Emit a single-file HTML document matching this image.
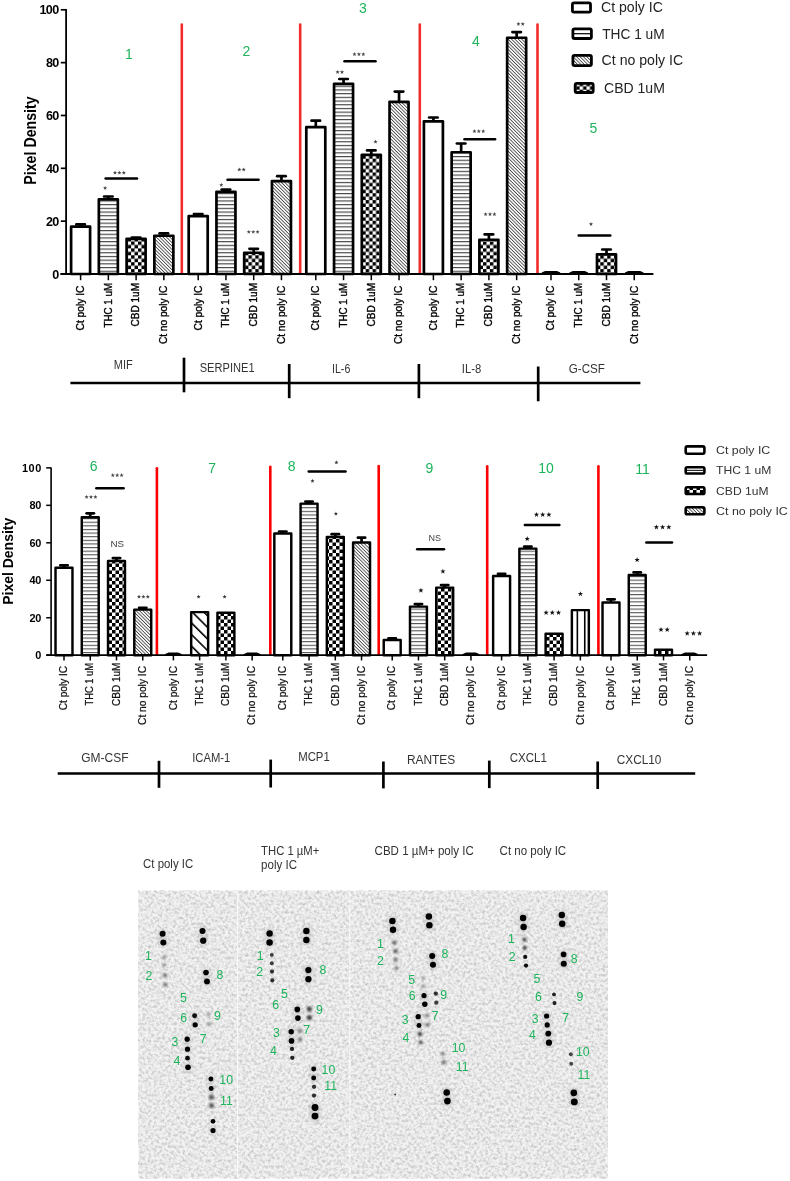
<!DOCTYPE html>
<html><head><meta charset="utf-8"><title>Figure</title>
<style>
html,body{margin:0;padding:0;background:#fff;}
svg{display:block;will-change:transform;}
text{font-family:'Liberation Sans', sans-serif;}
</style></head>
<body>
<svg width="790" height="1181" viewBox="0 0 790 1181">
<rect width="790" height="1181" fill="#fff"/>

<defs>
 <pattern id="hs1" patternUnits="userSpaceOnUse" width="8" height="3.7" y="0.6">
   <rect width="8" height="3.7" fill="#fff"/><rect y="0" width="8" height="1.15" fill="#444"/>
 </pattern>
 <pattern id="hs2" patternUnits="userSpaceOnUse" width="8" height="3.62" y="0.4">
   <rect width="8" height="3.62" fill="#fff"/><rect y="0" width="8" height="1.1" fill="#555"/>
 </pattern>
 <pattern id="ck1" patternUnits="userSpaceOnUse" width="6.9" height="6.9">
   <rect width="6.9" height="6.9" fill="#fff"/><rect width="3.45" height="3.45" fill="#000"/><rect x="3.45" y="3.45" width="3.45" height="3.45" fill="#000"/>
 </pattern>
 <pattern id="ck2" patternUnits="userSpaceOnUse" width="7" height="7">
   <rect width="7" height="7" fill="#fff"/><rect width="3.5" height="3.5" fill="#000"/><rect x="3.5" y="3.5" width="3.5" height="3.5" fill="#000"/>
 </pattern>
 <pattern id="dg1" patternUnits="userSpaceOnUse" width="2.4" height="10" patternTransform="rotate(-45)">
   <rect width="2.4" height="10" fill="#fff"/><rect width="0.85" height="10" fill="#444"/>
 </pattern>
 <pattern id="dg2" patternUnits="userSpaceOnUse" width="2.4" height="10" patternTransform="rotate(-45)">
   <rect width="2.4" height="10" fill="#fff"/><rect width="0.85" height="10" fill="#444"/>
 </pattern>
 <pattern id="wd" patternUnits="userSpaceOnUse" width="8.2" height="20" patternTransform="translate(190,611) rotate(-45)">
   <rect width="8.2" height="20" fill="#fff"/><rect width="1.6" height="20" fill="#000"/>
 </pattern>
 <filter id="noise" x="0" y="0" width="100%" height="100%">
   <feTurbulence type="fractalNoise" baseFrequency="0.35" numOctaves="3" seed="7" result="t"/>
   <feColorMatrix in="t" type="matrix" values="0 0 0 0 0  0 0 0 0 0  0 0 0 0 0  -0.42 0 0 0 0.255" result="c"/>
   <feGaussianBlur in="c" stdDeviation="0.55"/>
 </filter>
 <filter id="blur1" x="-50%" y="-50%" width="200%" height="200%"><feGaussianBlur stdDeviation="0.75"/></filter>
 <filter id="blur2" x="-80%" y="-80%" width="260%" height="260%"><feGaussianBlur stdDeviation="0.9"/></filter>
 <filter id="blur3" x="-50%" y="-50%" width="200%" height="200%"><feGaussianBlur stdDeviation="2.5"/></filter>
</defs>

<g id="chart1">
<line x1="181.80" y1="24.50" x2="181.80" y2="272.80" stroke="#f22c2c" stroke-width="2.6" stroke-linecap="round"/>
<line x1="300.20" y1="24.50" x2="300.20" y2="272.80" stroke="#f22c2c" stroke-width="2.6" stroke-linecap="round"/>
<line x1="419.80" y1="24.50" x2="419.80" y2="272.80" stroke="#f22c2c" stroke-width="2.6" stroke-linecap="round"/>
<line x1="537.50" y1="24.50" x2="537.50" y2="272.80" stroke="#f22c2c" stroke-width="2.6" stroke-linecap="round"/>
<rect x="71.10" y="226.65" width="19.00" height="47.35" fill="#fff" stroke="#000" stroke-width="2.7" stroke-linejoin="round"/>
<line x1="80.60" y1="224.40" x2="80.60" y2="226.30" stroke="#000" stroke-width="2.7" stroke-linecap="butt"/>
<line x1="76.35" y1="224.40" x2="84.85" y2="224.40" stroke="#000" stroke-width="2.7" stroke-linecap="round"/>
<rect x="98.85" y="199.35" width="19.00" height="74.65" fill="url(#hs1)" stroke="#000" stroke-width="2.7" stroke-linejoin="round"/>
<line x1="108.35" y1="196.50" x2="108.35" y2="199.00" stroke="#000" stroke-width="2.7" stroke-linecap="butt"/>
<line x1="104.10" y1="196.50" x2="112.60" y2="196.50" stroke="#000" stroke-width="2.7" stroke-linecap="round"/>
<rect x="126.60" y="238.85" width="19.00" height="35.15" fill="url(#ck1)" stroke="#000" stroke-width="2.7" stroke-linejoin="round"/>
<line x1="136.10" y1="237.60" x2="136.10" y2="238.50" stroke="#000" stroke-width="2.7" stroke-linecap="butt"/>
<line x1="131.85" y1="237.60" x2="140.35" y2="237.60" stroke="#000" stroke-width="2.7" stroke-linecap="round"/>
<rect x="154.35" y="235.75" width="19.00" height="38.25" fill="url(#dg1)" stroke="#000" stroke-width="2.7" stroke-linejoin="round"/>
<line x1="163.85" y1="233.40" x2="163.85" y2="235.40" stroke="#000" stroke-width="2.7" stroke-linecap="butt"/>
<line x1="159.60" y1="233.40" x2="168.10" y2="233.40" stroke="#000" stroke-width="2.7" stroke-linecap="round"/>
<rect x="188.70" y="216.05" width="19.00" height="57.95" fill="#fff" stroke="#000" stroke-width="2.7" stroke-linejoin="round"/>
<line x1="198.20" y1="214.00" x2="198.20" y2="215.70" stroke="#000" stroke-width="2.7" stroke-linecap="butt"/>
<line x1="193.95" y1="214.00" x2="202.45" y2="214.00" stroke="#000" stroke-width="2.7" stroke-linecap="round"/>
<rect x="216.45" y="191.75" width="19.00" height="82.25" fill="url(#hs1)" stroke="#000" stroke-width="2.7" stroke-linejoin="round"/>
<line x1="225.95" y1="189.60" x2="225.95" y2="191.40" stroke="#000" stroke-width="2.7" stroke-linecap="butt"/>
<line x1="221.70" y1="189.60" x2="230.20" y2="189.60" stroke="#000" stroke-width="2.7" stroke-linecap="round"/>
<rect x="244.20" y="252.75" width="19.00" height="21.25" fill="url(#ck1)" stroke="#000" stroke-width="2.7" stroke-linejoin="round"/>
<line x1="253.70" y1="248.80" x2="253.70" y2="252.40" stroke="#000" stroke-width="2.7" stroke-linecap="butt"/>
<line x1="249.45" y1="248.80" x2="257.95" y2="248.80" stroke="#000" stroke-width="2.7" stroke-linecap="round"/>
<rect x="271.95" y="181.05" width="19.00" height="92.95" fill="url(#dg1)" stroke="#000" stroke-width="2.7" stroke-linejoin="round"/>
<line x1="281.45" y1="176.20" x2="281.45" y2="180.70" stroke="#000" stroke-width="2.7" stroke-linecap="butt"/>
<line x1="277.20" y1="176.20" x2="285.70" y2="176.20" stroke="#000" stroke-width="2.7" stroke-linecap="round"/>
<rect x="306.30" y="127.15" width="19.00" height="146.85" fill="#fff" stroke="#000" stroke-width="2.7" stroke-linejoin="round"/>
<line x1="315.80" y1="120.70" x2="315.80" y2="126.80" stroke="#000" stroke-width="2.7" stroke-linecap="butt"/>
<line x1="311.55" y1="120.70" x2="320.05" y2="120.70" stroke="#000" stroke-width="2.7" stroke-linecap="round"/>
<rect x="334.05" y="83.85" width="19.00" height="190.15" fill="url(#hs1)" stroke="#000" stroke-width="2.7" stroke-linejoin="round"/>
<line x1="343.55" y1="79.00" x2="343.55" y2="83.50" stroke="#000" stroke-width="2.7" stroke-linecap="butt"/>
<line x1="339.30" y1="79.00" x2="347.80" y2="79.00" stroke="#000" stroke-width="2.7" stroke-linecap="round"/>
<rect x="361.80" y="154.95" width="19.00" height="119.05" fill="url(#ck1)" stroke="#000" stroke-width="2.7" stroke-linejoin="round"/>
<line x1="371.30" y1="150.40" x2="371.30" y2="154.60" stroke="#000" stroke-width="2.7" stroke-linecap="butt"/>
<line x1="367.05" y1="150.40" x2="375.55" y2="150.40" stroke="#000" stroke-width="2.7" stroke-linecap="round"/>
<rect x="389.55" y="101.85" width="19.00" height="172.15" fill="url(#dg1)" stroke="#000" stroke-width="2.7" stroke-linejoin="round"/>
<line x1="399.05" y1="91.60" x2="399.05" y2="101.50" stroke="#000" stroke-width="2.7" stroke-linecap="butt"/>
<line x1="394.80" y1="91.60" x2="403.30" y2="91.60" stroke="#000" stroke-width="2.7" stroke-linecap="round"/>
<rect x="423.90" y="121.35" width="19.00" height="152.65" fill="#fff" stroke="#000" stroke-width="2.7" stroke-linejoin="round"/>
<line x1="433.40" y1="117.50" x2="433.40" y2="121.00" stroke="#000" stroke-width="2.7" stroke-linecap="butt"/>
<line x1="429.15" y1="117.50" x2="437.65" y2="117.50" stroke="#000" stroke-width="2.7" stroke-linecap="round"/>
<rect x="451.65" y="152.25" width="19.00" height="121.75" fill="url(#hs1)" stroke="#000" stroke-width="2.7" stroke-linejoin="round"/>
<line x1="461.15" y1="143.50" x2="461.15" y2="151.90" stroke="#000" stroke-width="2.7" stroke-linecap="butt"/>
<line x1="456.90" y1="143.50" x2="465.40" y2="143.50" stroke="#000" stroke-width="2.7" stroke-linecap="round"/>
<rect x="479.40" y="239.75" width="19.00" height="34.25" fill="url(#ck1)" stroke="#000" stroke-width="2.7" stroke-linejoin="round"/>
<line x1="488.90" y1="234.40" x2="488.90" y2="239.40" stroke="#000" stroke-width="2.7" stroke-linecap="butt"/>
<line x1="484.65" y1="234.40" x2="493.15" y2="234.40" stroke="#000" stroke-width="2.7" stroke-linecap="round"/>
<rect x="507.15" y="37.75" width="19.00" height="236.25" fill="url(#dg1)" stroke="#000" stroke-width="2.7" stroke-linejoin="round"/>
<line x1="516.65" y1="32.10" x2="516.65" y2="37.40" stroke="#000" stroke-width="2.7" stroke-linecap="butt"/>
<line x1="512.40" y1="32.10" x2="520.90" y2="32.10" stroke="#000" stroke-width="2.7" stroke-linecap="round"/>
<path d="M540.15,274.50 Q541.65,271.60 545.15,271.00 L556.85,271.00 Q560.35,271.60 561.85,274.50 Z" fill="#000"/>
<path d="M567.90,274.50 Q569.40,271.60 572.90,271.00 L584.60,271.00 Q588.10,271.60 589.60,274.50 Z" fill="#000"/>
<rect x="597.00" y="254.35" width="19.00" height="19.65" fill="url(#ck1)" stroke="#000" stroke-width="2.7" stroke-linejoin="round"/>
<line x1="606.50" y1="249.50" x2="606.50" y2="254.00" stroke="#000" stroke-width="2.7" stroke-linecap="butt"/>
<line x1="602.25" y1="249.50" x2="610.75" y2="249.50" stroke="#000" stroke-width="2.7" stroke-linecap="round"/>
<path d="M623.40,274.50 Q624.90,271.60 628.40,271.00 L640.10,271.00 Q643.60,271.60 645.10,274.50 Z" fill="#000"/>
<line x1="66.10" y1="8.90" x2="66.10" y2="274.90" stroke="#000" stroke-width="1.8" stroke-linecap="butt"/>
<line x1="60.40" y1="274.00" x2="653.40" y2="274.00" stroke="#000" stroke-width="1.9" stroke-linecap="butt"/>
<line x1="60.80" y1="274.00" x2="66.10" y2="274.00" stroke="#000" stroke-width="1.7" stroke-linecap="butt"/>
<text x="59.20" y="278.50" font-size="12.6" font-weight="bold" fill="#000" text-anchor="end" textLength="6.3">0</text>
<line x1="60.80" y1="221.16" x2="66.10" y2="221.16" stroke="#000" stroke-width="1.7" stroke-linecap="butt"/>
<text x="59.20" y="225.66" font-size="12.6" font-weight="bold" fill="#000" text-anchor="end" textLength="13.2">20</text>
<line x1="60.80" y1="168.32" x2="66.10" y2="168.32" stroke="#000" stroke-width="1.7" stroke-linecap="butt"/>
<text x="59.20" y="172.82" font-size="12.6" font-weight="bold" fill="#000" text-anchor="end" textLength="13.2">40</text>
<line x1="60.80" y1="115.48" x2="66.10" y2="115.48" stroke="#000" stroke-width="1.7" stroke-linecap="butt"/>
<text x="59.20" y="119.98" font-size="12.6" font-weight="bold" fill="#000" text-anchor="end" textLength="13.2">60</text>
<line x1="60.80" y1="62.64" x2="66.10" y2="62.64" stroke="#000" stroke-width="1.7" stroke-linecap="butt"/>
<text x="59.20" y="67.14" font-size="12.6" font-weight="bold" fill="#000" text-anchor="end" textLength="13.2">80</text>
<line x1="60.80" y1="9.80" x2="66.10" y2="9.80" stroke="#000" stroke-width="1.7" stroke-linecap="butt"/>
<text x="59.20" y="14.30" font-size="12.6" font-weight="bold" fill="#000" text-anchor="end" textLength="19.8">100</text>
<line x1="80.60" y1="274.50" x2="80.60" y2="280.20" stroke="#000" stroke-width="1.5" stroke-linecap="butt"/>
<line x1="108.35" y1="274.50" x2="108.35" y2="280.20" stroke="#000" stroke-width="1.5" stroke-linecap="butt"/>
<line x1="136.10" y1="274.50" x2="136.10" y2="280.20" stroke="#000" stroke-width="1.5" stroke-linecap="butt"/>
<line x1="163.85" y1="274.50" x2="163.85" y2="280.20" stroke="#000" stroke-width="1.5" stroke-linecap="butt"/>
<line x1="198.20" y1="274.50" x2="198.20" y2="280.20" stroke="#000" stroke-width="1.5" stroke-linecap="butt"/>
<line x1="225.95" y1="274.50" x2="225.95" y2="280.20" stroke="#000" stroke-width="1.5" stroke-linecap="butt"/>
<line x1="253.70" y1="274.50" x2="253.70" y2="280.20" stroke="#000" stroke-width="1.5" stroke-linecap="butt"/>
<line x1="281.45" y1="274.50" x2="281.45" y2="280.20" stroke="#000" stroke-width="1.5" stroke-linecap="butt"/>
<line x1="315.80" y1="274.50" x2="315.80" y2="280.20" stroke="#000" stroke-width="1.5" stroke-linecap="butt"/>
<line x1="343.55" y1="274.50" x2="343.55" y2="280.20" stroke="#000" stroke-width="1.5" stroke-linecap="butt"/>
<line x1="371.30" y1="274.50" x2="371.30" y2="280.20" stroke="#000" stroke-width="1.5" stroke-linecap="butt"/>
<line x1="399.05" y1="274.50" x2="399.05" y2="280.20" stroke="#000" stroke-width="1.5" stroke-linecap="butt"/>
<line x1="433.40" y1="274.50" x2="433.40" y2="280.20" stroke="#000" stroke-width="1.5" stroke-linecap="butt"/>
<line x1="461.15" y1="274.50" x2="461.15" y2="280.20" stroke="#000" stroke-width="1.5" stroke-linecap="butt"/>
<line x1="488.90" y1="274.50" x2="488.90" y2="280.20" stroke="#000" stroke-width="1.5" stroke-linecap="butt"/>
<line x1="516.65" y1="274.50" x2="516.65" y2="280.20" stroke="#000" stroke-width="1.5" stroke-linecap="butt"/>
<line x1="551.00" y1="274.50" x2="551.00" y2="280.20" stroke="#000" stroke-width="1.5" stroke-linecap="butt"/>
<line x1="578.75" y1="274.50" x2="578.75" y2="280.20" stroke="#000" stroke-width="1.5" stroke-linecap="butt"/>
<line x1="606.50" y1="274.50" x2="606.50" y2="280.20" stroke="#000" stroke-width="1.5" stroke-linecap="butt"/>
<line x1="634.25" y1="274.50" x2="634.25" y2="280.20" stroke="#000" stroke-width="1.5" stroke-linecap="butt"/>
<text transform="translate(83.90,330.50) rotate(-90)" font-size="10.6" font-weight="normal" fill="#000" textLength="44.90" lengthAdjust="spacingAndGlyphs" stroke="#000" stroke-width="0.35">Ct poly IC</text>
<text transform="translate(111.65,327.60) rotate(-90)" font-size="10.6" font-weight="normal" fill="#000" textLength="44.70" lengthAdjust="spacingAndGlyphs" stroke="#000" stroke-width="0.35">THC 1 uM</text>
<text transform="translate(139.40,326.40) rotate(-90)" font-size="10.6" font-weight="normal" fill="#000" textLength="43.39" lengthAdjust="spacingAndGlyphs" stroke="#000" stroke-width="0.35">CBD 1uM</text>
<text transform="translate(167.15,344.10) rotate(-90)" font-size="10.6" font-weight="normal" fill="#000" textLength="58.50" lengthAdjust="spacingAndGlyphs" stroke="#000" stroke-width="0.35">Ct no poly IC</text>
<text transform="translate(201.50,330.50) rotate(-90)" font-size="10.6" font-weight="normal" fill="#000" textLength="44.90" lengthAdjust="spacingAndGlyphs" stroke="#000" stroke-width="0.35">Ct poly IC</text>
<text transform="translate(229.25,327.60) rotate(-90)" font-size="10.6" font-weight="normal" fill="#000" textLength="44.70" lengthAdjust="spacingAndGlyphs" stroke="#000" stroke-width="0.35">THC 1 uM</text>
<text transform="translate(257.00,326.40) rotate(-90)" font-size="10.6" font-weight="normal" fill="#000" textLength="43.39" lengthAdjust="spacingAndGlyphs" stroke="#000" stroke-width="0.35">CBD 1uM</text>
<text transform="translate(284.75,344.10) rotate(-90)" font-size="10.6" font-weight="normal" fill="#000" textLength="58.50" lengthAdjust="spacingAndGlyphs" stroke="#000" stroke-width="0.35">Ct no poly IC</text>
<text transform="translate(319.10,330.50) rotate(-90)" font-size="10.6" font-weight="normal" fill="#000" textLength="44.90" lengthAdjust="spacingAndGlyphs" stroke="#000" stroke-width="0.35">Ct poly IC</text>
<text transform="translate(346.85,327.60) rotate(-90)" font-size="10.6" font-weight="normal" fill="#000" textLength="44.70" lengthAdjust="spacingAndGlyphs" stroke="#000" stroke-width="0.35">THC 1 uM</text>
<text transform="translate(374.60,326.40) rotate(-90)" font-size="10.6" font-weight="normal" fill="#000" textLength="43.39" lengthAdjust="spacingAndGlyphs" stroke="#000" stroke-width="0.35">CBD 1uM</text>
<text transform="translate(402.35,344.10) rotate(-90)" font-size="10.6" font-weight="normal" fill="#000" textLength="58.50" lengthAdjust="spacingAndGlyphs" stroke="#000" stroke-width="0.35">Ct no poly IC</text>
<text transform="translate(436.70,330.50) rotate(-90)" font-size="10.6" font-weight="normal" fill="#000" textLength="44.90" lengthAdjust="spacingAndGlyphs" stroke="#000" stroke-width="0.35">Ct poly IC</text>
<text transform="translate(464.45,327.60) rotate(-90)" font-size="10.6" font-weight="normal" fill="#000" textLength="44.70" lengthAdjust="spacingAndGlyphs" stroke="#000" stroke-width="0.35">THC 1 uM</text>
<text transform="translate(492.20,326.40) rotate(-90)" font-size="10.6" font-weight="normal" fill="#000" textLength="43.39" lengthAdjust="spacingAndGlyphs" stroke="#000" stroke-width="0.35">CBD 1uM</text>
<text transform="translate(519.95,344.10) rotate(-90)" font-size="10.6" font-weight="normal" fill="#000" textLength="58.50" lengthAdjust="spacingAndGlyphs" stroke="#000" stroke-width="0.35">Ct no poly IC</text>
<text transform="translate(554.30,330.50) rotate(-90)" font-size="10.6" font-weight="normal" fill="#000" textLength="44.90" lengthAdjust="spacingAndGlyphs" stroke="#000" stroke-width="0.35">Ct poly IC</text>
<text transform="translate(582.05,327.60) rotate(-90)" font-size="10.6" font-weight="normal" fill="#000" textLength="44.70" lengthAdjust="spacingAndGlyphs" stroke="#000" stroke-width="0.35">THC 1 uM</text>
<text transform="translate(609.80,326.40) rotate(-90)" font-size="10.6" font-weight="normal" fill="#000" textLength="43.39" lengthAdjust="spacingAndGlyphs" stroke="#000" stroke-width="0.35">CBD 1uM</text>
<text transform="translate(637.55,344.10) rotate(-90)" font-size="10.6" font-weight="normal" fill="#000" textLength="58.50" lengthAdjust="spacingAndGlyphs" stroke="#000" stroke-width="0.35">Ct no poly IC</text>
<text transform="translate(35.80,184.70) rotate(-90)" font-size="16.2" font-weight="bold" fill="#000" textLength="88.40" lengthAdjust="spacingAndGlyphs" >Pixel Density</text>
<text x="128.90" y="58.90" font-size="14" font-weight="normal" fill="#1db45c" text-anchor="middle" >1</text>
<text x="246.30" y="55.60" font-size="14" font-weight="normal" fill="#1db45c" text-anchor="middle" >2</text>
<text x="362.80" y="13.10" font-size="14" font-weight="normal" fill="#1db45c" text-anchor="middle" >3</text>
<text x="475.80" y="46.00" font-size="14" font-weight="normal" fill="#1db45c" text-anchor="middle" >4</text>
<text x="593.50" y="133.30" font-size="14" font-weight="normal" fill="#1db45c" text-anchor="middle" >5</text>
<line x1="105.60" y1="178.50" x2="137.00" y2="178.50" stroke="#000" stroke-width="2.5" stroke-linecap="round"/>
<line x1="227.50" y1="179.70" x2="258.60" y2="179.70" stroke="#000" stroke-width="2.5" stroke-linecap="round"/>
<line x1="344.50" y1="61.30" x2="375.50" y2="61.30" stroke="#000" stroke-width="2.5" stroke-linecap="round"/>
<line x1="464.50" y1="139.20" x2="495.10" y2="139.20" stroke="#000" stroke-width="2.5" stroke-linecap="round"/>
<line x1="578.70" y1="235.40" x2="610.30" y2="235.40" stroke="#000" stroke-width="2.5" stroke-linecap="round"/>
<polygon points="105.10,185.81 105.64,187.26 107.19,187.33 105.98,188.30 106.39,189.79 105.10,188.93 103.81,189.79 104.22,188.30 103.01,187.33 104.56,187.26" fill="#484848"/>
<polygon points="115.00,170.51 115.54,171.96 117.09,172.03 115.88,173.00 116.29,174.49 115.00,173.63 113.71,174.49 114.12,173.00 112.91,172.03 114.46,171.96" fill="#484848"/>
<polygon points="119.40,170.51 119.94,171.96 121.49,172.03 120.28,173.00 120.69,174.49 119.40,173.63 118.11,174.49 118.52,173.00 117.31,172.03 118.86,171.96" fill="#484848"/>
<polygon points="123.80,170.51 124.34,171.96 125.89,172.03 124.68,173.00 125.09,174.49 123.80,173.63 122.51,174.49 122.92,173.00 121.71,172.03 123.26,171.96" fill="#484848"/>
<polygon points="221.30,182.81 221.84,184.26 223.39,184.33 222.18,185.30 222.59,186.79 221.30,185.93 220.01,186.79 220.42,185.30 219.21,184.33 220.76,184.26" fill="#484848"/>
<polygon points="239.30,167.41 239.84,168.86 241.39,168.93 240.18,169.90 240.59,171.39 239.30,170.53 238.01,171.39 238.42,169.90 237.21,168.93 238.76,168.86" fill="#484848"/>
<polygon points="243.70,167.41 244.24,168.86 245.79,168.93 244.58,169.90 244.99,171.39 243.70,170.53 242.41,171.39 242.82,169.90 241.61,168.93 243.16,168.86" fill="#484848"/>
<polygon points="248.80,229.71 249.34,231.16 250.89,231.23 249.68,232.20 250.09,233.69 248.80,232.83 247.51,233.69 247.92,232.20 246.71,231.23 248.26,231.16" fill="#484848"/>
<polygon points="253.20,229.71 253.74,231.16 255.29,231.23 254.08,232.20 254.49,233.69 253.20,232.83 251.91,233.69 252.32,232.20 251.11,231.23 252.66,231.16" fill="#484848"/>
<polygon points="257.60,229.71 258.14,231.16 259.69,231.23 258.48,232.20 258.89,233.69 257.60,232.83 256.31,233.69 256.72,232.20 255.51,231.23 257.06,231.16" fill="#484848"/>
<polygon points="337.60,69.91 338.14,71.36 339.69,71.43 338.48,72.40 338.89,73.89 337.60,73.03 336.31,73.89 336.72,72.40 335.51,71.43 337.06,71.36" fill="#484848"/>
<polygon points="342.00,69.91 342.54,71.36 344.09,71.43 342.88,72.40 343.29,73.89 342.00,73.03 340.71,73.89 341.12,72.40 339.91,71.43 341.46,71.36" fill="#484848"/>
<polygon points="354.50,52.01 355.04,53.46 356.59,53.53 355.38,54.50 355.79,55.99 354.50,55.13 353.21,55.99 353.62,54.50 352.41,53.53 353.96,53.46" fill="#484848"/>
<polygon points="358.90,52.01 359.44,53.46 360.99,53.53 359.78,54.50 360.19,55.99 358.90,55.13 357.61,55.99 358.02,54.50 356.81,53.53 358.36,53.46" fill="#484848"/>
<polygon points="363.30,52.01 363.84,53.46 365.39,53.53 364.18,54.50 364.59,55.99 363.30,55.13 362.01,55.99 362.42,54.50 361.21,53.53 362.76,53.46" fill="#484848"/>
<polygon points="375.50,139.51 376.04,140.96 377.59,141.03 376.38,142.00 376.79,143.49 375.50,142.63 374.21,143.49 374.62,142.00 373.41,141.03 374.96,140.96" fill="#484848"/>
<polygon points="518.40,21.81 518.94,23.26 520.49,23.33 519.28,24.30 519.69,25.79 518.40,24.93 517.11,25.79 517.52,24.30 516.31,23.33 517.86,23.26" fill="#484848"/>
<polygon points="522.80,21.81 523.34,23.26 524.89,23.33 523.68,24.30 524.09,25.79 522.80,24.93 521.51,25.79 521.92,24.30 520.71,23.33 522.26,23.26" fill="#484848"/>
<polygon points="474.40,129.11 474.94,130.56 476.49,130.63 475.28,131.60 475.69,133.09 474.40,132.23 473.11,133.09 473.52,131.60 472.31,130.63 473.86,130.56" fill="#484848"/>
<polygon points="478.80,129.11 479.34,130.56 480.89,130.63 479.68,131.60 480.09,133.09 478.80,132.23 477.51,133.09 477.92,131.60 476.71,130.63 478.26,130.56" fill="#484848"/>
<polygon points="483.20,129.11 483.74,130.56 485.29,130.63 484.08,131.60 484.49,133.09 483.20,132.23 481.91,133.09 482.32,131.60 481.11,130.63 482.66,130.56" fill="#484848"/>
<polygon points="485.60,212.01 486.14,213.46 487.69,213.53 486.48,214.50 486.89,215.99 485.60,215.13 484.31,215.99 484.72,214.50 483.51,213.53 485.06,213.46" fill="#484848"/>
<polygon points="490.00,212.01 490.54,213.46 492.09,213.53 490.88,214.50 491.29,215.99 490.00,215.13 488.71,215.99 489.12,214.50 487.91,213.53 489.46,213.46" fill="#484848"/>
<polygon points="494.40,212.01 494.94,213.46 496.49,213.53 495.28,214.50 495.69,215.99 494.40,215.13 493.11,215.99 493.52,214.50 492.31,213.53 493.86,213.46" fill="#484848"/>
<polygon points="591.00,221.91 591.54,223.36 593.09,223.43 591.88,224.40 592.29,225.89 591.00,225.03 589.71,225.89 590.12,224.40 588.91,223.43 590.46,223.36" fill="#484848"/>
<line x1="70.40" y1="383.00" x2="640.40" y2="383.00" stroke="#000" stroke-width="2.7" stroke-linecap="butt"/>
<line x1="184.00" y1="357.70" x2="184.00" y2="392.30" stroke="#000" stroke-width="2.7" stroke-linecap="butt"/>
<line x1="289.20" y1="364.00" x2="289.20" y2="398.20" stroke="#000" stroke-width="2.7" stroke-linecap="butt"/>
<line x1="418.90" y1="364.00" x2="418.90" y2="398.20" stroke="#000" stroke-width="2.7" stroke-linecap="butt"/>
<line x1="538.20" y1="366.50" x2="538.20" y2="401.30" stroke="#000" stroke-width="2.7" stroke-linecap="butt"/>
<text x="113.70" y="369.10" font-size="12.3" font-weight="normal" fill="#333" textLength="19.00" lengthAdjust="spacingAndGlyphs" >MIF</text>
<text x="199.70" y="371.50" font-size="12.3" font-weight="normal" fill="#333" textLength="54.90" lengthAdjust="spacingAndGlyphs" >SERPINE1</text>
<text x="332.00" y="373.00" font-size="12.3" font-weight="normal" fill="#333" textLength="18.30" lengthAdjust="spacingAndGlyphs" >IL-6</text>
<text x="461.80" y="372.80" font-size="12.3" font-weight="normal" fill="#333" textLength="19.40" lengthAdjust="spacingAndGlyphs" >IL-8</text>
<text x="568.80" y="372.80" font-size="12.3" font-weight="normal" fill="#333" textLength="36.10" lengthAdjust="spacingAndGlyphs" >G-CSF</text>
<rect x="572.40" y="2.80" width="18.10" height="9.40" rx="1.6" fill="#fff" stroke="#000" stroke-width="2.8"/>
<rect x="572.90" y="28.90" width="18.50" height="9.60" rx="1.6" fill="#fff" stroke="#000" stroke-width="2.8"/>
<line x1="574.00" y1="33.70" x2="590.30" y2="33.70" stroke="#000" stroke-width="1.2" stroke-linecap="butt"/>
<rect x="572.90" y="55.40" width="18.50" height="10.20" rx="1.6" fill="url(#dg1)" stroke="#000" stroke-width="2.8"/>
<rect x="575.20" y="83.30" width="18.00" height="9.20" rx="1.6" fill="url(#ck1)" stroke="#000" stroke-width="2.8"/>
<text x="601.10" y="12.00" font-size="14" font-weight="normal" fill="#222" textLength="61.70" lengthAdjust="spacingAndGlyphs" >Ct poly IC</text>
<text x="602.20" y="38.60" font-size="14" font-weight="normal" fill="#222" textLength="62.40" lengthAdjust="spacingAndGlyphs" >THC 1 uM</text>
<text x="601.60" y="64.70" font-size="14" font-weight="normal" fill="#222" textLength="81.60" lengthAdjust="spacingAndGlyphs" >Ct no poly IC</text>
<text x="604.00" y="93.00" font-size="14" font-weight="normal" fill="#222" textLength="60.89" lengthAdjust="spacingAndGlyphs" >CBD 1uM</text>
</g>
<g id="chart2">
<line x1="156.90" y1="468.20" x2="156.90" y2="654.50" stroke="#ff0000" stroke-width="2.6" stroke-linecap="round"/>
<line x1="270.30" y1="466.80" x2="270.30" y2="654.50" stroke="#ff0000" stroke-width="2.6" stroke-linecap="round"/>
<line x1="378.70" y1="466.00" x2="378.70" y2="654.50" stroke="#ff0000" stroke-width="2.6" stroke-linecap="round"/>
<line x1="487.20" y1="466.20" x2="487.20" y2="654.50" stroke="#ff0000" stroke-width="2.6" stroke-linecap="round"/>
<line x1="598.40" y1="466.20" x2="598.40" y2="654.50" stroke="#ff0000" stroke-width="2.6" stroke-linecap="round"/>
<rect x="55.52" y="567.83" width="16.95" height="87.38" fill="#fff" stroke="#000" stroke-width="2.45" stroke-linejoin="round"/>
<line x1="64.00" y1="565.30" x2="64.00" y2="567.60" stroke="#000" stroke-width="2.7" stroke-linecap="butt"/>
<line x1="60.35" y1="565.30" x2="67.65" y2="565.30" stroke="#000" stroke-width="2.7" stroke-linecap="round"/>
<rect x="81.77" y="517.33" width="16.95" height="137.88" fill="url(#hs2)" stroke="#000" stroke-width="2.45" stroke-linejoin="round"/>
<line x1="90.25" y1="513.30" x2="90.25" y2="517.10" stroke="#000" stroke-width="2.7" stroke-linecap="butt"/>
<line x1="86.60" y1="513.30" x2="93.90" y2="513.30" stroke="#000" stroke-width="2.7" stroke-linecap="round"/>
<rect x="108.02" y="560.93" width="16.95" height="94.27" fill="url(#ck2)" stroke="#000" stroke-width="2.45" stroke-linejoin="round"/>
<line x1="116.50" y1="558.10" x2="116.50" y2="560.70" stroke="#000" stroke-width="2.7" stroke-linecap="butt"/>
<line x1="112.85" y1="558.10" x2="120.15" y2="558.10" stroke="#000" stroke-width="2.7" stroke-linecap="round"/>
<rect x="134.28" y="609.62" width="16.95" height="45.58" fill="url(#dg2)" stroke="#000" stroke-width="2.45" stroke-linejoin="round"/>
<line x1="142.75" y1="607.80" x2="142.75" y2="609.40" stroke="#000" stroke-width="2.7" stroke-linecap="butt"/>
<line x1="139.10" y1="607.80" x2="146.40" y2="607.80" stroke="#000" stroke-width="2.7" stroke-linecap="round"/>
<path d="M163.70,655.70 Q165.20,653.00 168.70,652.40 L178.10,652.40 Q181.60,653.00 183.10,655.70 Z" fill="#000"/>
<rect x="191.18" y="612.12" width="16.95" height="43.08" fill="url(#wd)" stroke="#000" stroke-width="2.45" stroke-linejoin="round"/>
<rect x="217.43" y="612.83" width="16.95" height="42.38" fill="url(#ck2)" stroke="#000" stroke-width="2.45" stroke-linejoin="round"/>
<path d="M242.45,655.70 Q243.95,653.00 247.45,652.40 L256.85,652.40 Q260.35,653.00 261.85,655.70 Z" fill="#000"/>
<rect x="274.33" y="533.43" width="16.95" height="121.77" fill="#fff" stroke="#000" stroke-width="2.45" stroke-linejoin="round"/>
<line x1="282.80" y1="531.50" x2="282.80" y2="533.20" stroke="#000" stroke-width="2.7" stroke-linecap="butt"/>
<line x1="279.15" y1="531.50" x2="286.45" y2="531.50" stroke="#000" stroke-width="2.7" stroke-linecap="round"/>
<rect x="300.58" y="503.62" width="16.95" height="151.58" fill="url(#hs2)" stroke="#000" stroke-width="2.45" stroke-linejoin="round"/>
<line x1="309.05" y1="501.60" x2="309.05" y2="503.40" stroke="#000" stroke-width="2.7" stroke-linecap="butt"/>
<line x1="305.40" y1="501.60" x2="312.70" y2="501.60" stroke="#000" stroke-width="2.7" stroke-linecap="round"/>
<rect x="326.83" y="537.02" width="16.95" height="118.18" fill="url(#ck2)" stroke="#000" stroke-width="2.45" stroke-linejoin="round"/>
<line x1="335.30" y1="534.20" x2="335.30" y2="536.80" stroke="#000" stroke-width="2.7" stroke-linecap="butt"/>
<line x1="331.65" y1="534.20" x2="338.95" y2="534.20" stroke="#000" stroke-width="2.7" stroke-linecap="round"/>
<rect x="353.08" y="542.52" width="16.95" height="112.68" fill="url(#dg2)" stroke="#000" stroke-width="2.45" stroke-linejoin="round"/>
<line x1="361.55" y1="537.70" x2="361.55" y2="542.30" stroke="#000" stroke-width="2.7" stroke-linecap="butt"/>
<line x1="357.90" y1="537.70" x2="365.20" y2="537.70" stroke="#000" stroke-width="2.7" stroke-linecap="round"/>
<rect x="383.73" y="640.02" width="16.95" height="15.18" fill="#fff" stroke="#000" stroke-width="2.45" stroke-linejoin="round"/>
<line x1="392.20" y1="638.30" x2="392.20" y2="639.80" stroke="#000" stroke-width="2.7" stroke-linecap="butt"/>
<line x1="388.55" y1="638.30" x2="395.85" y2="638.30" stroke="#000" stroke-width="2.7" stroke-linecap="round"/>
<rect x="409.98" y="606.62" width="16.95" height="48.58" fill="url(#hs2)" stroke="#000" stroke-width="2.45" stroke-linejoin="round"/>
<line x1="418.45" y1="604.10" x2="418.45" y2="606.40" stroke="#000" stroke-width="2.7" stroke-linecap="butt"/>
<line x1="414.80" y1="604.10" x2="422.10" y2="604.10" stroke="#000" stroke-width="2.7" stroke-linecap="round"/>
<rect x="436.23" y="587.62" width="16.95" height="67.58" fill="url(#ck2)" stroke="#000" stroke-width="2.45" stroke-linejoin="round"/>
<line x1="444.70" y1="585.10" x2="444.70" y2="587.40" stroke="#000" stroke-width="2.7" stroke-linecap="butt"/>
<line x1="441.05" y1="585.10" x2="448.35" y2="585.10" stroke="#000" stroke-width="2.7" stroke-linecap="round"/>
<path d="M461.25,655.70 Q462.75,653.00 466.25,652.40 L475.65,652.40 Q479.15,653.00 480.65,655.70 Z" fill="#000"/>
<rect x="493.13" y="576.02" width="16.95" height="79.18" fill="#fff" stroke="#000" stroke-width="2.45" stroke-linejoin="round"/>
<line x1="501.60" y1="573.80" x2="501.60" y2="575.80" stroke="#000" stroke-width="2.7" stroke-linecap="butt"/>
<line x1="497.95" y1="573.80" x2="505.25" y2="573.80" stroke="#000" stroke-width="2.7" stroke-linecap="round"/>
<rect x="519.38" y="548.62" width="16.95" height="106.58" fill="url(#hs2)" stroke="#000" stroke-width="2.45" stroke-linejoin="round"/>
<line x1="527.85" y1="546.60" x2="527.85" y2="548.40" stroke="#000" stroke-width="2.7" stroke-linecap="butt"/>
<line x1="524.20" y1="546.60" x2="531.50" y2="546.60" stroke="#000" stroke-width="2.7" stroke-linecap="round"/>
<rect x="545.62" y="633.73" width="16.95" height="21.48" fill="url(#ck2)" stroke="#000" stroke-width="2.45" stroke-linejoin="round"/>
<rect x="571.88" y="610.12" width="16.95" height="45.08" fill="#fff" stroke="#000" stroke-width="2.45" stroke-linejoin="round"/>
<line x1="577.35" y1="610.90" x2="577.35" y2="655.20" stroke="#000" stroke-width="1.6" stroke-linecap="butt"/>
<line x1="584.75" y1="610.90" x2="584.75" y2="655.20" stroke="#000" stroke-width="1.6" stroke-linecap="butt"/>
<rect x="602.52" y="602.52" width="16.95" height="52.68" fill="#fff" stroke="#000" stroke-width="2.45" stroke-linejoin="round"/>
<line x1="611.00" y1="599.30" x2="611.00" y2="602.30" stroke="#000" stroke-width="2.7" stroke-linecap="butt"/>
<line x1="607.35" y1="599.30" x2="614.65" y2="599.30" stroke="#000" stroke-width="2.7" stroke-linecap="round"/>
<rect x="628.77" y="574.93" width="16.95" height="80.27" fill="url(#hs2)" stroke="#000" stroke-width="2.45" stroke-linejoin="round"/>
<line x1="637.25" y1="572.40" x2="637.25" y2="574.70" stroke="#000" stroke-width="2.7" stroke-linecap="butt"/>
<line x1="633.60" y1="572.40" x2="640.90" y2="572.40" stroke="#000" stroke-width="2.7" stroke-linecap="round"/>
<rect x="655.02" y="649.73" width="16.95" height="5.48" fill="url(#ck2)" stroke="#000" stroke-width="2.45" stroke-linejoin="round"/>
<path d="M680.05,655.70 Q681.55,653.00 685.05,652.40 L694.45,652.40 Q697.95,653.00 699.45,655.70 Z" fill="#000"/>
<line x1="51.10" y1="467.40" x2="51.10" y2="655.90" stroke="#000" stroke-width="1.6" stroke-linecap="butt"/>
<line x1="46.30" y1="655.10" x2="707.10" y2="655.10" stroke="#000" stroke-width="1.8" stroke-linecap="butt"/>
<line x1="46.20" y1="655.20" x2="51.10" y2="655.20" stroke="#000" stroke-width="1.5" stroke-linecap="butt"/>
<text x="41.30" y="659.10" font-size="10.9" font-weight="bold" fill="#000" text-anchor="end" textLength="5.6">0</text>
<line x1="46.20" y1="617.73" x2="51.10" y2="617.73" stroke="#000" stroke-width="1.5" stroke-linecap="butt"/>
<text x="41.30" y="621.63" font-size="10.9" font-weight="bold" fill="#000" text-anchor="end" textLength="11.9">20</text>
<line x1="46.20" y1="580.27" x2="51.10" y2="580.27" stroke="#000" stroke-width="1.5" stroke-linecap="butt"/>
<text x="41.30" y="584.17" font-size="10.9" font-weight="bold" fill="#000" text-anchor="end" textLength="11.9">40</text>
<line x1="46.20" y1="542.80" x2="51.10" y2="542.80" stroke="#000" stroke-width="1.5" stroke-linecap="butt"/>
<text x="41.30" y="546.70" font-size="10.9" font-weight="bold" fill="#000" text-anchor="end" textLength="11.9">60</text>
<line x1="46.20" y1="505.34" x2="51.10" y2="505.34" stroke="#000" stroke-width="1.5" stroke-linecap="butt"/>
<text x="41.30" y="509.24" font-size="10.9" font-weight="bold" fill="#000" text-anchor="end" textLength="11.9">80</text>
<line x1="46.20" y1="467.87" x2="51.10" y2="467.87" stroke="#000" stroke-width="1.5" stroke-linecap="butt"/>
<text x="41.30" y="471.77" font-size="10.9" font-weight="bold" fill="#000" text-anchor="end" textLength="19.4">100</text>
<line x1="64.00" y1="655.50" x2="64.00" y2="660.40" stroke="#000" stroke-width="1.5" stroke-linecap="butt"/>
<line x1="90.25" y1="655.50" x2="90.25" y2="660.40" stroke="#000" stroke-width="1.5" stroke-linecap="butt"/>
<line x1="116.50" y1="655.50" x2="116.50" y2="660.40" stroke="#000" stroke-width="1.5" stroke-linecap="butt"/>
<line x1="142.75" y1="655.50" x2="142.75" y2="660.40" stroke="#000" stroke-width="1.5" stroke-linecap="butt"/>
<line x1="173.40" y1="655.50" x2="173.40" y2="660.40" stroke="#000" stroke-width="1.5" stroke-linecap="butt"/>
<line x1="199.65" y1="655.50" x2="199.65" y2="660.40" stroke="#000" stroke-width="1.5" stroke-linecap="butt"/>
<line x1="225.90" y1="655.50" x2="225.90" y2="660.40" stroke="#000" stroke-width="1.5" stroke-linecap="butt"/>
<line x1="252.15" y1="655.50" x2="252.15" y2="660.40" stroke="#000" stroke-width="1.5" stroke-linecap="butt"/>
<line x1="282.80" y1="655.50" x2="282.80" y2="660.40" stroke="#000" stroke-width="1.5" stroke-linecap="butt"/>
<line x1="309.05" y1="655.50" x2="309.05" y2="660.40" stroke="#000" stroke-width="1.5" stroke-linecap="butt"/>
<line x1="335.30" y1="655.50" x2="335.30" y2="660.40" stroke="#000" stroke-width="1.5" stroke-linecap="butt"/>
<line x1="361.55" y1="655.50" x2="361.55" y2="660.40" stroke="#000" stroke-width="1.5" stroke-linecap="butt"/>
<line x1="392.20" y1="655.50" x2="392.20" y2="660.40" stroke="#000" stroke-width="1.5" stroke-linecap="butt"/>
<line x1="418.45" y1="655.50" x2="418.45" y2="660.40" stroke="#000" stroke-width="1.5" stroke-linecap="butt"/>
<line x1="444.70" y1="655.50" x2="444.70" y2="660.40" stroke="#000" stroke-width="1.5" stroke-linecap="butt"/>
<line x1="470.95" y1="655.50" x2="470.95" y2="660.40" stroke="#000" stroke-width="1.5" stroke-linecap="butt"/>
<line x1="501.60" y1="655.50" x2="501.60" y2="660.40" stroke="#000" stroke-width="1.5" stroke-linecap="butt"/>
<line x1="527.85" y1="655.50" x2="527.85" y2="660.40" stroke="#000" stroke-width="1.5" stroke-linecap="butt"/>
<line x1="554.10" y1="655.50" x2="554.10" y2="660.40" stroke="#000" stroke-width="1.5" stroke-linecap="butt"/>
<line x1="580.35" y1="655.50" x2="580.35" y2="660.40" stroke="#000" stroke-width="1.5" stroke-linecap="butt"/>
<line x1="611.00" y1="655.50" x2="611.00" y2="660.40" stroke="#000" stroke-width="1.5" stroke-linecap="butt"/>
<line x1="637.25" y1="655.50" x2="637.25" y2="660.40" stroke="#000" stroke-width="1.5" stroke-linecap="butt"/>
<line x1="663.50" y1="655.50" x2="663.50" y2="660.40" stroke="#000" stroke-width="1.5" stroke-linecap="butt"/>
<line x1="689.75" y1="655.50" x2="689.75" y2="660.40" stroke="#000" stroke-width="1.5" stroke-linecap="butt"/>
<text transform="translate(67.20,710.30) rotate(-90)" font-size="10.4" font-weight="normal" fill="#111" textLength="44.50" lengthAdjust="spacingAndGlyphs" stroke="#111" stroke-width="0.25">Ct poly IC</text>
<text transform="translate(93.45,705.50) rotate(-90)" font-size="10.4" font-weight="normal" fill="#111" textLength="42.60" lengthAdjust="spacingAndGlyphs" stroke="#111" stroke-width="0.25">THC 1 uM</text>
<text transform="translate(119.70,705.90) rotate(-90)" font-size="10.4" font-weight="normal" fill="#111" textLength="43.30" lengthAdjust="spacingAndGlyphs" stroke="#111" stroke-width="0.25">CBD 1uM</text>
<text transform="translate(145.95,724.90) rotate(-90)" font-size="10.4" font-weight="normal" fill="#111" textLength="58.90" lengthAdjust="spacingAndGlyphs" stroke="#111" stroke-width="0.25">Ct no poly IC</text>
<text transform="translate(176.60,710.30) rotate(-90)" font-size="10.4" font-weight="normal" fill="#111" textLength="44.50" lengthAdjust="spacingAndGlyphs" stroke="#111" stroke-width="0.25">Ct poly IC</text>
<text transform="translate(202.85,705.50) rotate(-90)" font-size="10.4" font-weight="normal" fill="#111" textLength="42.60" lengthAdjust="spacingAndGlyphs" stroke="#111" stroke-width="0.25">THC 1 uM</text>
<text transform="translate(229.10,705.90) rotate(-90)" font-size="10.4" font-weight="normal" fill="#111" textLength="43.30" lengthAdjust="spacingAndGlyphs" stroke="#111" stroke-width="0.25">CBD 1uM</text>
<text transform="translate(255.35,724.90) rotate(-90)" font-size="10.4" font-weight="normal" fill="#111" textLength="58.90" lengthAdjust="spacingAndGlyphs" stroke="#111" stroke-width="0.25">Ct no poly IC</text>
<text transform="translate(286.00,710.30) rotate(-90)" font-size="10.4" font-weight="normal" fill="#111" textLength="44.50" lengthAdjust="spacingAndGlyphs" stroke="#111" stroke-width="0.25">Ct poly IC</text>
<text transform="translate(312.25,705.50) rotate(-90)" font-size="10.4" font-weight="normal" fill="#111" textLength="42.60" lengthAdjust="spacingAndGlyphs" stroke="#111" stroke-width="0.25">THC 1 uM</text>
<text transform="translate(338.50,705.90) rotate(-90)" font-size="10.4" font-weight="normal" fill="#111" textLength="43.30" lengthAdjust="spacingAndGlyphs" stroke="#111" stroke-width="0.25">CBD 1uM</text>
<text transform="translate(364.75,724.90) rotate(-90)" font-size="10.4" font-weight="normal" fill="#111" textLength="58.90" lengthAdjust="spacingAndGlyphs" stroke="#111" stroke-width="0.25">Ct no poly IC</text>
<text transform="translate(395.40,710.30) rotate(-90)" font-size="10.4" font-weight="normal" fill="#111" textLength="44.50" lengthAdjust="spacingAndGlyphs" stroke="#111" stroke-width="0.25">Ct poly IC</text>
<text transform="translate(421.65,705.50) rotate(-90)" font-size="10.4" font-weight="normal" fill="#111" textLength="42.60" lengthAdjust="spacingAndGlyphs" stroke="#111" stroke-width="0.25">THC 1 uM</text>
<text transform="translate(447.90,705.90) rotate(-90)" font-size="10.4" font-weight="normal" fill="#111" textLength="43.30" lengthAdjust="spacingAndGlyphs" stroke="#111" stroke-width="0.25">CBD 1uM</text>
<text transform="translate(474.15,724.90) rotate(-90)" font-size="10.4" font-weight="normal" fill="#111" textLength="58.90" lengthAdjust="spacingAndGlyphs" stroke="#111" stroke-width="0.25">Ct no poly IC</text>
<text transform="translate(504.80,710.30) rotate(-90)" font-size="10.4" font-weight="normal" fill="#111" textLength="44.50" lengthAdjust="spacingAndGlyphs" stroke="#111" stroke-width="0.25">Ct poly IC</text>
<text transform="translate(531.05,705.50) rotate(-90)" font-size="10.4" font-weight="normal" fill="#111" textLength="42.60" lengthAdjust="spacingAndGlyphs" stroke="#111" stroke-width="0.25">THC 1 uM</text>
<text transform="translate(557.30,705.90) rotate(-90)" font-size="10.4" font-weight="normal" fill="#111" textLength="43.30" lengthAdjust="spacingAndGlyphs" stroke="#111" stroke-width="0.25">CBD 1uM</text>
<text transform="translate(583.55,724.90) rotate(-90)" font-size="10.4" font-weight="normal" fill="#111" textLength="58.90" lengthAdjust="spacingAndGlyphs" stroke="#111" stroke-width="0.25">Ct no poly IC</text>
<text transform="translate(614.20,710.30) rotate(-90)" font-size="10.4" font-weight="normal" fill="#111" textLength="44.50" lengthAdjust="spacingAndGlyphs" stroke="#111" stroke-width="0.25">Ct poly IC</text>
<text transform="translate(640.45,705.50) rotate(-90)" font-size="10.4" font-weight="normal" fill="#111" textLength="42.60" lengthAdjust="spacingAndGlyphs" stroke="#111" stroke-width="0.25">THC 1 uM</text>
<text transform="translate(666.70,705.90) rotate(-90)" font-size="10.4" font-weight="normal" fill="#111" textLength="43.30" lengthAdjust="spacingAndGlyphs" stroke="#111" stroke-width="0.25">CBD 1uM</text>
<text transform="translate(692.95,724.90) rotate(-90)" font-size="10.4" font-weight="normal" fill="#111" textLength="58.90" lengthAdjust="spacingAndGlyphs" stroke="#111" stroke-width="0.25">Ct no poly IC</text>
<text transform="translate(13.20,604.70) rotate(-90)" font-size="14.9" font-weight="bold" fill="#000" textLength="86.90" lengthAdjust="spacingAndGlyphs" >Pixel Density</text>
<text x="93.60" y="471.00" font-size="14.0" font-weight="normal" fill="#1db45c" text-anchor="middle" >6</text>
<text x="212.20" y="472.60" font-size="14.0" font-weight="normal" fill="#1db45c" text-anchor="middle" >7</text>
<text x="291.60" y="470.50" font-size="14.0" font-weight="normal" fill="#1db45c" text-anchor="middle" >8</text>
<text x="429.40" y="473.20" font-size="14.0" font-weight="normal" fill="#1db45c" text-anchor="middle" >9</text>
<text x="546.00" y="473.20" font-size="14.0" font-weight="normal" fill="#1db45c" text-anchor="middle" >10</text>
<text x="642.50" y="474.40" font-size="14.0" font-weight="normal" fill="#1db45c" text-anchor="middle" >11</text>
<line x1="96.30" y1="488.30" x2="123.60" y2="488.30" stroke="#000" stroke-width="2.5" stroke-linecap="round"/>
<line x1="308.70" y1="471.40" x2="345.50" y2="471.40" stroke="#000" stroke-width="2.5" stroke-linecap="round"/>
<line x1="417.20" y1="549.20" x2="444.00" y2="549.20" stroke="#000" stroke-width="2.5" stroke-linecap="round"/>
<line x1="524.90" y1="524.90" x2="559.40" y2="524.90" stroke="#000" stroke-width="2.5" stroke-linecap="round"/>
<line x1="646.30" y1="542.50" x2="672.00" y2="542.50" stroke="#000" stroke-width="2.5" stroke-linecap="round"/>
<polygon points="86.60,494.81 87.14,496.26 88.69,496.33 87.48,497.30 87.89,498.79 86.60,497.93 85.31,498.79 85.72,497.30 84.51,496.33 86.06,496.26" fill="#484848"/>
<polygon points="91.00,494.81 91.54,496.26 93.09,496.33 91.88,497.30 92.29,498.79 91.00,497.93 89.71,498.79 90.12,497.30 88.91,496.33 90.46,496.26" fill="#484848"/>
<polygon points="95.40,494.81 95.94,496.26 97.49,496.33 96.28,497.30 96.69,498.79 95.40,497.93 94.11,498.79 94.52,497.30 93.31,496.33 94.86,496.26" fill="#484848"/>
<polygon points="112.80,473.11 113.34,474.56 114.89,474.63 113.68,475.60 114.09,477.09 112.80,476.23 111.51,477.09 111.92,475.60 110.71,474.63 112.26,474.56" fill="#484848"/>
<polygon points="117.20,473.11 117.74,474.56 119.29,474.63 118.08,475.60 118.49,477.09 117.20,476.23 115.91,477.09 116.32,475.60 115.11,474.63 116.66,474.56" fill="#484848"/>
<polygon points="121.60,473.11 122.14,474.56 123.69,474.63 122.48,475.60 122.89,477.09 121.60,476.23 120.31,477.09 120.72,475.60 119.51,474.63 121.06,474.56" fill="#484848"/>
<polygon points="139.00,594.51 139.54,595.96 141.09,596.03 139.88,597.00 140.29,598.49 139.00,597.63 137.71,598.49 138.12,597.00 136.91,596.03 138.46,595.96" fill="#484848"/>
<polygon points="143.40,594.51 143.94,595.96 145.49,596.03 144.28,597.00 144.69,598.49 143.40,597.63 142.11,598.49 142.52,597.00 141.31,596.03 142.86,595.96" fill="#484848"/>
<polygon points="147.80,594.51 148.34,595.96 149.89,596.03 148.68,597.00 149.09,598.49 147.80,597.63 146.51,598.49 146.92,597.00 145.71,596.03 147.26,595.96" fill="#484848"/>
<polygon points="198.60,594.51 199.14,595.96 200.69,596.03 199.48,597.00 199.89,598.49 198.60,597.63 197.31,598.49 197.72,597.00 196.51,596.03 198.06,595.96" fill="#383838"/>
<polygon points="224.60,594.51 225.14,595.96 226.69,596.03 225.48,597.00 225.89,598.49 224.60,597.63 223.31,598.49 223.72,597.00 222.51,596.03 224.06,595.96" fill="#383838"/>
<polygon points="336.40,460.31 336.94,461.76 338.49,461.83 337.28,462.80 337.69,464.29 336.40,463.43 335.11,464.29 335.52,462.80 334.31,461.83 335.86,461.76" fill="#383838"/>
<polygon points="312.50,478.81 313.04,480.26 314.59,480.33 313.38,481.30 313.79,482.79 312.50,481.93 311.21,482.79 311.62,481.30 310.41,480.33 311.96,480.26" fill="#383838"/>
<polygon points="335.90,511.51 336.44,512.96 337.99,513.03 336.78,514.00 337.19,515.49 335.90,514.63 334.61,515.49 335.02,514.00 333.81,513.03 335.36,512.96" fill="#383838"/>
<polygon points="420.90,587.71 421.58,589.53 423.52,589.61 422.00,590.82 422.52,592.69 420.90,591.62 419.28,592.69 419.80,590.82 418.28,589.61 420.22,589.53" fill="#151515"/>
<polygon points="442.90,568.71 443.58,570.53 445.52,570.61 444.00,571.82 444.52,573.69 442.90,572.62 441.28,573.69 441.80,571.82 440.28,570.61 442.22,570.53" fill="#222"/>
<polygon points="536.50,511.91 537.18,513.73 539.12,513.81 537.60,515.02 538.12,516.89 536.50,515.82 534.88,516.89 535.40,515.02 533.88,513.81 535.82,513.73" fill="#151515"/>
<polygon points="542.70,511.91 543.38,513.73 545.32,513.81 543.80,515.02 544.32,516.89 542.70,515.82 541.08,516.89 541.60,515.02 540.08,513.81 542.02,513.73" fill="#151515"/>
<polygon points="548.90,511.91 549.58,513.73 551.52,513.81 550.00,515.02 550.52,516.89 548.90,515.82 547.28,516.89 547.80,515.02 546.28,513.81 548.22,513.73" fill="#151515"/>
<polygon points="527.20,536.11 527.88,537.93 529.82,538.01 528.30,539.22 528.82,541.09 527.20,540.02 525.58,541.09 526.10,539.22 524.58,538.01 526.52,537.93" fill="#151515"/>
<polygon points="546.10,609.91 546.78,611.73 548.72,611.81 547.20,613.02 547.72,614.89 546.10,613.82 544.48,614.89 545.00,613.02 543.48,611.81 545.42,611.73" fill="#151515"/>
<polygon points="552.30,609.91 552.98,611.73 554.92,611.81 553.40,613.02 553.92,614.89 552.30,613.82 550.68,614.89 551.20,613.02 549.68,611.81 551.62,611.73" fill="#151515"/>
<polygon points="558.50,609.91 559.18,611.73 561.12,611.81 559.60,613.02 560.12,614.89 558.50,613.82 556.88,614.89 557.40,613.02 555.88,611.81 557.82,611.73" fill="#151515"/>
<polygon points="580.40,591.21 581.08,593.03 583.02,593.11 581.50,594.32 582.02,596.19 580.40,595.12 578.78,596.19 579.30,594.32 577.78,593.11 579.72,593.03" fill="#222"/>
<polygon points="637.10,557.11 637.78,558.93 639.72,559.01 638.20,560.22 638.72,562.09 637.10,561.02 635.48,562.09 636.00,560.22 634.48,559.01 636.42,558.93" fill="#151515"/>
<polygon points="656.40,524.41 657.08,526.23 659.02,526.31 657.50,527.52 658.02,529.39 656.40,528.32 654.78,529.39 655.30,527.52 653.78,526.31 655.72,526.23" fill="#151515"/>
<polygon points="662.60,524.41 663.28,526.23 665.22,526.31 663.70,527.52 664.22,529.39 662.60,528.32 660.98,529.39 661.50,527.52 659.98,526.31 661.92,526.23" fill="#151515"/>
<polygon points="668.80,524.41 669.48,526.23 671.42,526.31 669.90,527.52 670.42,529.39 668.80,528.32 667.18,529.39 667.70,527.52 666.18,526.31 668.12,526.23" fill="#151515"/>
<polygon points="661.00,626.91 661.68,628.73 663.62,628.81 662.10,630.02 662.62,631.89 661.00,630.82 659.38,631.89 659.90,630.02 658.38,628.81 660.32,628.73" fill="#151515"/>
<polygon points="667.20,626.91 667.88,628.73 669.82,628.81 668.30,630.02 668.82,631.89 667.20,630.82 665.58,631.89 666.10,630.02 664.58,628.81 666.52,628.73" fill="#151515"/>
<polygon points="687.20,630.71 687.88,632.53 689.82,632.61 688.30,633.82 688.82,635.69 687.20,634.62 685.58,635.69 686.10,633.82 684.58,632.61 686.52,632.53" fill="#151515"/>
<polygon points="693.40,630.71 694.08,632.53 696.02,632.61 694.50,633.82 695.02,635.69 693.40,634.62 691.78,635.69 692.30,633.82 690.78,632.61 692.72,632.53" fill="#151515"/>
<polygon points="699.60,630.71 700.28,632.53 702.22,632.61 700.70,633.82 701.22,635.69 699.60,634.62 697.98,635.69 698.50,633.82 696.98,632.61 698.92,632.53" fill="#151515"/>
<text x="117.20" y="546.90" font-size="9.8" font-weight="normal" fill="#444" text-anchor="middle" >NS</text>
<text x="434.80" y="540.80" font-size="9.0" font-weight="normal" fill="#444" text-anchor="middle" >NS</text>
<line x1="57.70" y1="773.50" x2="695.20" y2="773.50" stroke="#000" stroke-width="2.7" stroke-linecap="butt"/>
<line x1="159.00" y1="760.80" x2="159.00" y2="787.80" stroke="#000" stroke-width="2.7" stroke-linecap="butt"/>
<line x1="270.70" y1="759.60" x2="270.70" y2="787.50" stroke="#000" stroke-width="2.7" stroke-linecap="butt"/>
<line x1="383.40" y1="761.50" x2="383.40" y2="788.40" stroke="#000" stroke-width="2.7" stroke-linecap="butt"/>
<line x1="489.30" y1="760.60" x2="489.30" y2="788.10" stroke="#000" stroke-width="2.7" stroke-linecap="butt"/>
<line x1="597.70" y1="761.50" x2="597.70" y2="789.00" stroke="#000" stroke-width="2.7" stroke-linecap="butt"/>
<text x="81.20" y="761.80" font-size="11.9" font-weight="normal" fill="#333" textLength="47.30" lengthAdjust="spacingAndGlyphs" >GM-CSF</text>
<text x="192.20" y="762.20" font-size="11.9" font-weight="normal" fill="#333" textLength="38.10" lengthAdjust="spacingAndGlyphs" >ICAM-1</text>
<text x="298.20" y="761.10" font-size="11.9" font-weight="normal" fill="#333" textLength="31.60" lengthAdjust="spacingAndGlyphs" >MCP1</text>
<text x="406.90" y="763.90" font-size="11.9" font-weight="normal" fill="#333" textLength="48.40" lengthAdjust="spacingAndGlyphs" >RANTES</text>
<text x="509.70" y="762.20" font-size="11.9" font-weight="normal" fill="#333" textLength="37.20" lengthAdjust="spacingAndGlyphs" >CXCL1</text>
<text x="616.80" y="763.90" font-size="11.9" font-weight="normal" fill="#333" textLength="44.60" lengthAdjust="spacingAndGlyphs" >CXCL10</text>
<rect x="685.70" y="446.40" width="18.70" height="7.30" rx="1.6" fill="#fff" stroke="#000" stroke-width="2.6"/>
<rect x="685.70" y="467.20" width="18.70" height="6.30" rx="1.6" fill="#fff" stroke="#000" stroke-width="2.6"/>
<line x1="687.00" y1="470.35" x2="703.00" y2="470.35" stroke="#000" stroke-width="1.0" stroke-linecap="butt"/>
<rect x="685.70" y="487.30" width="18.70" height="6.70" rx="1.6" fill="url(#ck2)" stroke="#000" stroke-width="2.6"/>
<rect x="685.70" y="507.30" width="18.70" height="7.00" rx="1.6" fill="url(#dg2)" stroke="#000" stroke-width="2.6"/>
<text x="716.10" y="453.90" font-size="11.4" font-weight="normal" fill="#333" textLength="54.20" lengthAdjust="spacingAndGlyphs" >Ct poly IC</text>
<text x="716.10" y="474.40" font-size="11.4" font-weight="normal" fill="#333" textLength="55.20" lengthAdjust="spacingAndGlyphs" >THC 1 uM</text>
<text x="716.10" y="495.00" font-size="11.4" font-weight="normal" fill="#333" textLength="52.39" lengthAdjust="spacingAndGlyphs" >CBD 1uM</text>
<text x="716.10" y="514.90" font-size="11.4" font-weight="normal" fill="#333" textLength="71.70" lengthAdjust="spacingAndGlyphs" >Ct no poly IC</text>
</g>
<g id="blot">
<rect x="138.5" y="890.8" width="469.5" height="287.5" fill="#f2f2f2"/>
<rect x="138.5" y="890.8" width="469.5" height="287.5" fill="#000" filter="url(#noise)"/>
<line x1="237.60" y1="890.80" x2="237.60" y2="1178.30" stroke="#fafafa" stroke-width="1.0" stroke-linecap="butt"/>
<line x1="349.80" y1="890.80" x2="349.80" y2="1178.30" stroke="#fafafa" stroke-width="1.0" stroke-linecap="butt"/>
<text x="143.10" y="867.90" font-size="12.3" font-weight="normal" fill="#333" textLength="50.10" lengthAdjust="spacingAndGlyphs" >Ct poly IC</text>
<text x="261.10" y="854.70" font-size="12.3" font-weight="normal" fill="#333" textLength="58.20" lengthAdjust="spacingAndGlyphs" >THC 1 µM+</text>
<text x="261.10" y="869.30" font-size="12.3" font-weight="normal" fill="#333" textLength="35.90" lengthAdjust="spacingAndGlyphs" >poly IC</text>
<text x="374.60" y="854.70" font-size="12.3" font-weight="normal" fill="#333" textLength="99.21" lengthAdjust="spacingAndGlyphs" >CBD 1 µM+ poly IC</text>
<text x="499.60" y="854.70" font-size="12.3" font-weight="normal" fill="#333" textLength="66.60" lengthAdjust="spacingAndGlyphs" >Ct no poly IC</text>
<circle cx="162.6" cy="933.7" r="4.20" fill="#000" opacity="0.16" filter="url(#blur3)"/>
<circle cx="163.3" cy="942.4" r="4.20" fill="#000" opacity="0.16" filter="url(#blur3)"/>
<circle cx="202.5" cy="931.0" r="4.20" fill="#000" opacity="0.16" filter="url(#blur3)"/>
<circle cx="203.2" cy="940.7" r="4.35" fill="#000" opacity="0.16" filter="url(#blur3)"/>
<circle cx="206.0" cy="972.5" r="3.90" fill="#000" opacity="0.16" filter="url(#blur3)"/>
<circle cx="207.0" cy="981.4" r="4.05" fill="#000" opacity="0.16" filter="url(#blur3)"/>
<circle cx="194.6" cy="1015.8" r="3.45" fill="#000" opacity="0.16" filter="url(#blur3)"/>
<circle cx="195.2" cy="1024.8" r="3.60" fill="#000" opacity="0.16" filter="url(#blur3)"/>
<circle cx="187.2" cy="1039.2" r="3.60" fill="#000" opacity="0.16" filter="url(#blur3)"/>
<circle cx="187.5" cy="1049.2" r="3.60" fill="#000" opacity="0.16" filter="url(#blur3)"/>
<circle cx="188.0" cy="1067.3" r="3.90" fill="#000" opacity="0.16" filter="url(#blur3)"/>
<circle cx="210.9" cy="1079.1" r="3.45" fill="#000" opacity="0.16" filter="url(#blur3)"/>
<circle cx="211.2" cy="1088.6" r="3.45" fill="#000" opacity="0.16" filter="url(#blur3)"/>
<circle cx="213.0" cy="1130.5" r="3.60" fill="#000" opacity="0.16" filter="url(#blur3)"/>
<circle cx="269.6" cy="933.6" r="4.50" fill="#000" opacity="0.16" filter="url(#blur3)"/>
<circle cx="269.6" cy="942.4" r="4.50" fill="#000" opacity="0.16" filter="url(#blur3)"/>
<circle cx="306.4" cy="930.9" r="4.50" fill="#000" opacity="0.16" filter="url(#blur3)"/>
<circle cx="306.4" cy="940.0" r="4.50" fill="#000" opacity="0.16" filter="url(#blur3)"/>
<circle cx="308.4" cy="970.1" r="4.35" fill="#000" opacity="0.16" filter="url(#blur3)"/>
<circle cx="308.4" cy="979.2" r="4.35" fill="#000" opacity="0.16" filter="url(#blur3)"/>
<circle cx="297.3" cy="1009.4" r="3.90" fill="#000" opacity="0.16" filter="url(#blur3)"/>
<circle cx="297.9" cy="1018.1" r="3.90" fill="#000" opacity="0.16" filter="url(#blur3)"/>
<circle cx="291.2" cy="1031.8" r="3.75" fill="#000" opacity="0.16" filter="url(#blur3)"/>
<circle cx="291.5" cy="1040.9" r="3.90" fill="#000" opacity="0.16" filter="url(#blur3)"/>
<circle cx="313.7" cy="1069.0" r="3.45" fill="#000" opacity="0.16" filter="url(#blur3)"/>
<circle cx="313.7" cy="1078.1" r="3.45" fill="#000" opacity="0.16" filter="url(#blur3)"/>
<circle cx="315.0" cy="1107.5" r="4.80" fill="#000" opacity="0.16" filter="url(#blur3)"/>
<circle cx="315.0" cy="1116.1" r="4.80" fill="#000" opacity="0.16" filter="url(#blur3)"/>
<circle cx="392.4" cy="920.9" r="4.50" fill="#000" opacity="0.16" filter="url(#blur3)"/>
<circle cx="393.0" cy="929.8" r="4.50" fill="#000" opacity="0.16" filter="url(#blur3)"/>
<circle cx="428.9" cy="916.6" r="4.50" fill="#000" opacity="0.16" filter="url(#blur3)"/>
<circle cx="429.4" cy="925.3" r="4.50" fill="#000" opacity="0.16" filter="url(#blur3)"/>
<circle cx="432.2" cy="956.1" r="4.20" fill="#000" opacity="0.16" filter="url(#blur3)"/>
<circle cx="433.0" cy="964.8" r="4.20" fill="#000" opacity="0.16" filter="url(#blur3)"/>
<circle cx="424.0" cy="995.6" r="3.60" fill="#000" opacity="0.16" filter="url(#blur3)"/>
<circle cx="424.8" cy="1004.3" r="3.75" fill="#000" opacity="0.16" filter="url(#blur3)"/>
<circle cx="418.2" cy="1016.7" r="3.60" fill="#000" opacity="0.16" filter="url(#blur3)"/>
<circle cx="419.0" cy="1025.4" r="3.45" fill="#000" opacity="0.16" filter="url(#blur3)"/>
<circle cx="446.7" cy="1092.4" r="4.50" fill="#000" opacity="0.16" filter="url(#blur3)"/>
<circle cx="447.4" cy="1101.1" r="4.65" fill="#000" opacity="0.16" filter="url(#blur3)"/>
<circle cx="523.1" cy="917.9" r="4.50" fill="#000" opacity="0.16" filter="url(#blur3)"/>
<circle cx="523.6" cy="927.0" r="4.50" fill="#000" opacity="0.16" filter="url(#blur3)"/>
<circle cx="561.8" cy="915.0" r="4.50" fill="#000" opacity="0.16" filter="url(#blur3)"/>
<circle cx="562.2" cy="923.7" r="4.50" fill="#000" opacity="0.16" filter="url(#blur3)"/>
<circle cx="563.6" cy="954.4" r="3.90" fill="#000" opacity="0.16" filter="url(#blur3)"/>
<circle cx="563.8" cy="963.7" r="4.20" fill="#000" opacity="0.16" filter="url(#blur3)"/>
<circle cx="546.6" cy="1016.0" r="3.60" fill="#000" opacity="0.16" filter="url(#blur3)"/>
<circle cx="547.2" cy="1024.9" r="3.60" fill="#000" opacity="0.16" filter="url(#blur3)"/>
<circle cx="548.3" cy="1033.6" r="4.05" fill="#000" opacity="0.16" filter="url(#blur3)"/>
<circle cx="548.9" cy="1042.7" r="4.35" fill="#000" opacity="0.16" filter="url(#blur3)"/>
<circle cx="573.8" cy="1092.8" r="4.65" fill="#000" opacity="0.16" filter="url(#blur3)"/>
<circle cx="574.3" cy="1101.9" r="4.80" fill="#000" opacity="0.16" filter="url(#blur3)"/>
<circle cx="162.6" cy="933.7" r="3.02" fill="rgb(0,0,0)" filter="url(#blur1)"/>
<circle cx="163.3" cy="942.4" r="3.02" fill="rgb(0,0,0)" filter="url(#blur1)"/>
<circle cx="202.5" cy="931.0" r="3.02" fill="rgb(0,0,0)" filter="url(#blur1)"/>
<circle cx="203.2" cy="940.7" r="3.13" fill="rgb(0,0,0)" filter="url(#blur1)"/>
<circle cx="206.0" cy="972.5" r="2.81" fill="rgb(0,0,0)" filter="url(#blur1)"/>
<circle cx="207.0" cy="981.4" r="2.92" fill="rgb(0,0,0)" filter="url(#blur1)"/>
<circle cx="164.2" cy="957.4" r="2.08" fill="rgb(146,146,146)" filter="url(#blur2)"/>
<circle cx="164.2" cy="965.0" r="2.08" fill="rgb(146,146,146)" filter="url(#blur2)"/>
<circle cx="165.0" cy="975.3" r="2.21" fill="rgb(114,114,114)" filter="url(#blur2)"/>
<circle cx="165.4" cy="984.6" r="2.21" fill="rgb(114,114,114)" filter="url(#blur2)"/>
<circle cx="194.6" cy="1015.8" r="2.48" fill="rgb(12,12,12)" filter="url(#blur1)"/>
<circle cx="195.2" cy="1024.8" r="2.59" fill="rgb(0,0,0)" filter="url(#blur1)"/>
<circle cx="208.5" cy="1014.4" r="2.08" fill="rgb(156,156,156)" filter="url(#blur2)"/>
<circle cx="209.0" cy="1024.1" r="2.34" fill="rgb(156,156,156)" filter="url(#blur2)"/>
<circle cx="187.2" cy="1039.2" r="2.59" fill="rgb(0,0,0)" filter="url(#blur1)"/>
<circle cx="187.5" cy="1049.2" r="2.59" fill="rgb(0,0,0)" filter="url(#blur1)"/>
<circle cx="187.5" cy="1058.2" r="2.38" fill="rgb(12,12,12)" filter="url(#blur1)"/>
<circle cx="188.0" cy="1067.3" r="2.81" fill="rgb(0,0,0)" filter="url(#blur1)"/>
<circle cx="210.9" cy="1079.1" r="2.48" fill="rgb(0,0,0)" filter="url(#blur1)"/>
<circle cx="211.2" cy="1088.6" r="2.48" fill="rgb(0,0,0)" filter="url(#blur1)"/>
<circle cx="211.5" cy="1097.2" r="2.60" fill="rgb(92,92,92)" filter="url(#blur2)"/>
<circle cx="211.5" cy="1105.6" r="2.60" fill="rgb(92,92,92)" filter="url(#blur2)"/>
<circle cx="213.0" cy="1121.3" r="2.38" fill="rgb(0,0,0)" filter="url(#blur1)"/>
<circle cx="213.0" cy="1130.5" r="2.59" fill="rgb(0,0,0)" filter="url(#blur1)"/>
<circle cx="269.6" cy="933.6" r="3.24" fill="rgb(0,0,0)" filter="url(#blur1)"/>
<circle cx="269.6" cy="942.4" r="3.24" fill="rgb(0,0,0)" filter="url(#blur1)"/>
<circle cx="306.4" cy="930.9" r="3.24" fill="rgb(0,0,0)" filter="url(#blur1)"/>
<circle cx="306.4" cy="940.0" r="3.24" fill="rgb(0,0,0)" filter="url(#blur1)"/>
<circle cx="308.4" cy="970.1" r="3.13" fill="rgb(0,0,0)" filter="url(#blur1)"/>
<circle cx="308.4" cy="979.2" r="3.13" fill="rgb(0,0,0)" filter="url(#blur1)"/>
<circle cx="271.8" cy="954.9" r="1.94" fill="rgb(59,59,59)" filter="url(#blur1)"/>
<circle cx="271.8" cy="963.2" r="1.94" fill="rgb(59,59,59)" filter="url(#blur1)"/>
<circle cx="272.0" cy="971.6" r="2.05" fill="rgb(47,47,47)" filter="url(#blur1)"/>
<circle cx="272.3" cy="980.4" r="2.05" fill="rgb(47,47,47)" filter="url(#blur1)"/>
<circle cx="297.3" cy="1009.4" r="2.81" fill="rgb(0,0,0)" filter="url(#blur1)"/>
<circle cx="297.9" cy="1018.1" r="2.81" fill="rgb(0,0,0)" filter="url(#blur1)"/>
<circle cx="309.4" cy="1009.0" r="2.60" fill="rgb(61,61,61)" filter="url(#blur2)"/>
<circle cx="309.4" cy="1017.6" r="2.60" fill="rgb(61,61,61)" filter="url(#blur2)"/>
<circle cx="291.2" cy="1031.8" r="2.70" fill="rgb(0,0,0)" filter="url(#blur1)"/>
<circle cx="291.5" cy="1040.9" r="2.81" fill="rgb(0,0,0)" filter="url(#blur1)"/>
<circle cx="292.0" cy="1048.9" r="2.16" fill="rgb(35,35,35)" filter="url(#blur1)"/>
<circle cx="292.3" cy="1057.8" r="2.16" fill="rgb(35,35,35)" filter="url(#blur1)"/>
<circle cx="300.0" cy="1031.0" r="2.34" fill="rgb(124,124,124)" filter="url(#blur2)"/>
<circle cx="300.0" cy="1039.4" r="2.34" fill="rgb(124,124,124)" filter="url(#blur2)"/>
<circle cx="313.7" cy="1069.0" r="2.48" fill="rgb(0,0,0)" filter="url(#blur1)"/>
<circle cx="313.7" cy="1078.1" r="2.48" fill="rgb(0,0,0)" filter="url(#blur1)"/>
<circle cx="314.0" cy="1086.8" r="2.16" fill="rgb(47,47,47)" filter="url(#blur1)"/>
<circle cx="314.0" cy="1095.6" r="2.16" fill="rgb(47,47,47)" filter="url(#blur1)"/>
<circle cx="315.0" cy="1107.5" r="3.46" fill="rgb(0,0,0)" filter="url(#blur1)"/>
<circle cx="315.0" cy="1116.1" r="3.46" fill="rgb(0,0,0)" filter="url(#blur1)"/>
<circle cx="392.4" cy="920.9" r="3.24" fill="rgb(0,0,0)" filter="url(#blur1)"/>
<circle cx="393.0" cy="929.8" r="3.24" fill="rgb(0,0,0)" filter="url(#blur1)"/>
<circle cx="428.9" cy="916.6" r="3.24" fill="rgb(0,0,0)" filter="url(#blur1)"/>
<circle cx="429.4" cy="925.3" r="3.24" fill="rgb(0,0,0)" filter="url(#blur1)"/>
<circle cx="432.2" cy="956.1" r="3.02" fill="rgb(0,0,0)" filter="url(#blur1)"/>
<circle cx="433.0" cy="964.8" r="3.02" fill="rgb(0,0,0)" filter="url(#blur1)"/>
<circle cx="394.4" cy="942.6" r="2.21" fill="rgb(92,92,92)" filter="url(#blur2)"/>
<circle cx="395.5" cy="951.2" r="2.21" fill="rgb(92,92,92)" filter="url(#blur2)"/>
<circle cx="395.5" cy="959.9" r="2.08" fill="rgb(108,108,108)" filter="url(#blur2)"/>
<circle cx="396.5" cy="968.1" r="2.21" fill="rgb(124,124,124)" filter="url(#blur2)"/>
<circle cx="423.2" cy="978.0" r="2.08" fill="rgb(156,156,156)" filter="url(#blur2)"/>
<circle cx="423.2" cy="986.2" r="2.08" fill="rgb(156,156,156)" filter="url(#blur2)"/>
<circle cx="424.0" cy="995.6" r="2.59" fill="rgb(0,0,0)" filter="url(#blur1)"/>
<circle cx="424.8" cy="1004.3" r="2.70" fill="rgb(0,0,0)" filter="url(#blur1)"/>
<circle cx="435.8" cy="993.6" r="2.16" fill="rgb(47,47,47)" filter="url(#blur1)"/>
<circle cx="436.3" cy="1002.7" r="2.16" fill="rgb(59,59,59)" filter="url(#blur1)"/>
<circle cx="418.2" cy="1016.7" r="2.59" fill="rgb(0,0,0)" filter="url(#blur1)"/>
<circle cx="419.0" cy="1025.4" r="2.48" fill="rgb(0,0,0)" filter="url(#blur1)"/>
<circle cx="419.9" cy="1034.1" r="2.34" fill="rgb(61,61,61)" filter="url(#blur2)"/>
<circle cx="420.7" cy="1042.3" r="2.08" fill="rgb(76,76,76)" filter="url(#blur2)"/>
<circle cx="427.0" cy="1015.5" r="2.08" fill="rgb(124,124,124)" filter="url(#blur2)"/>
<circle cx="427.4" cy="1024.9" r="2.08" fill="rgb(108,108,108)" filter="url(#blur2)"/>
<circle cx="442.9" cy="1053.8" r="2.08" fill="rgb(124,124,124)" filter="url(#blur2)"/>
<circle cx="443.6" cy="1062.4" r="2.21" fill="rgb(108,108,108)" filter="url(#blur2)"/>
<circle cx="446.7" cy="1092.4" r="3.24" fill="rgb(0,0,0)" filter="url(#blur1)"/>
<circle cx="447.4" cy="1101.1" r="3.35" fill="rgb(0,0,0)" filter="url(#blur1)"/>
<circle cx="395.2" cy="1094.5" r="0.97" fill="rgb(47,47,47)" filter="url(#blur1)"/>
<circle cx="523.1" cy="917.9" r="3.24" fill="rgb(0,0,0)" filter="url(#blur1)"/>
<circle cx="523.6" cy="927.0" r="3.24" fill="rgb(0,0,0)" filter="url(#blur1)"/>
<circle cx="561.8" cy="915.0" r="3.24" fill="rgb(0,0,0)" filter="url(#blur1)"/>
<circle cx="562.2" cy="923.7" r="3.24" fill="rgb(0,0,0)" filter="url(#blur1)"/>
<circle cx="563.6" cy="954.4" r="2.81" fill="rgb(0,0,0)" filter="url(#blur1)"/>
<circle cx="563.8" cy="963.7" r="3.02" fill="rgb(0,0,0)" filter="url(#blur1)"/>
<circle cx="524.4" cy="939.6" r="2.08" fill="rgb(61,61,61)" filter="url(#blur2)"/>
<circle cx="524.8" cy="947.9" r="2.08" fill="rgb(61,61,61)" filter="url(#blur2)"/>
<circle cx="525.2" cy="956.9" r="2.05" fill="rgb(12,12,12)" filter="url(#blur1)"/>
<circle cx="526.0" cy="965.6" r="2.16" fill="rgb(12,12,12)" filter="url(#blur1)"/>
<circle cx="554.0" cy="994.4" r="1.94" fill="rgb(35,35,35)" filter="url(#blur1)"/>
<circle cx="554.5" cy="1003.1" r="2.05" fill="rgb(35,35,35)" filter="url(#blur1)"/>
<circle cx="546.6" cy="1016.0" r="2.59" fill="rgb(0,0,0)" filter="url(#blur1)"/>
<circle cx="547.2" cy="1024.9" r="2.59" fill="rgb(0,0,0)" filter="url(#blur1)"/>
<circle cx="548.3" cy="1033.6" r="2.92" fill="rgb(0,0,0)" filter="url(#blur1)"/>
<circle cx="548.9" cy="1042.7" r="3.13" fill="rgb(0,0,0)" filter="url(#blur1)"/>
<circle cx="570.8" cy="1054.2" r="1.94" fill="rgb(71,71,71)" filter="url(#blur1)"/>
<circle cx="571.2" cy="1063.7" r="1.94" fill="rgb(71,71,71)" filter="url(#blur1)"/>
<circle cx="573.8" cy="1092.8" r="3.35" fill="rgb(0,0,0)" filter="url(#blur1)"/>
<circle cx="574.3" cy="1101.9" r="3.46" fill="rgb(0,0,0)" filter="url(#blur1)"/>
<text x="148.50" y="959.60" font-size="12.3" font-weight="normal" fill="#1db45c" text-anchor="middle" >1</text>
<text x="148.90" y="979.80" font-size="12.3" font-weight="normal" fill="#1db45c" text-anchor="middle" >2</text>
<text x="220.00" y="979.10" font-size="12.3" font-weight="normal" fill="#1db45c" text-anchor="middle" >8</text>
<text x="183.50" y="1001.90" font-size="12.3" font-weight="normal" fill="#1db45c" text-anchor="middle" >5</text>
<text x="183.70" y="1022.20" font-size="12.3" font-weight="normal" fill="#1db45c" text-anchor="middle" >6</text>
<text x="217.50" y="1020.10" font-size="12.3" font-weight="normal" fill="#1db45c" text-anchor="middle" >9</text>
<text x="203.20" y="1043.00" font-size="12.3" font-weight="normal" fill="#1db45c" text-anchor="middle" >7</text>
<text x="175.00" y="1045.60" font-size="12.3" font-weight="normal" fill="#1db45c" text-anchor="middle" >3</text>
<text x="176.80" y="1065.10" font-size="12.3" font-weight="normal" fill="#1db45c" text-anchor="middle" >4</text>
<text x="226.20" y="1083.70" font-size="12.3" font-weight="normal" fill="#1db45c" text-anchor="middle" >10</text>
<text x="226.50" y="1105.00" font-size="12.3" font-weight="normal" fill="#1db45c" text-anchor="middle" >11</text>
<text x="260.10" y="960.40" font-size="12.3" font-weight="normal" fill="#1db45c" text-anchor="middle" >1</text>
<text x="259.60" y="975.90" font-size="12.3" font-weight="normal" fill="#1db45c" text-anchor="middle" >2</text>
<text x="322.80" y="974.40" font-size="12.3" font-weight="normal" fill="#1db45c" text-anchor="middle" >8</text>
<text x="284.40" y="998.00" font-size="12.3" font-weight="normal" fill="#1db45c" text-anchor="middle" >5</text>
<text x="275.70" y="1009.40" font-size="12.3" font-weight="normal" fill="#1db45c" text-anchor="middle" >6</text>
<text x="319.30" y="1013.70" font-size="12.3" font-weight="normal" fill="#1db45c" text-anchor="middle" >9</text>
<text x="306.70" y="1033.80" font-size="12.3" font-weight="normal" fill="#1db45c" text-anchor="middle" >7</text>
<text x="276.30" y="1036.80" font-size="12.3" font-weight="normal" fill="#1db45c" text-anchor="middle" >3</text>
<text x="273.30" y="1055.10" font-size="12.3" font-weight="normal" fill="#1db45c" text-anchor="middle" >4</text>
<text x="328.40" y="1073.60" font-size="12.3" font-weight="normal" fill="#1db45c" text-anchor="middle" >10</text>
<text x="330.70" y="1090.00" font-size="12.3" font-weight="normal" fill="#1db45c" text-anchor="middle" >11</text>
<text x="380.40" y="947.70" font-size="12.3" font-weight="normal" fill="#1db45c" text-anchor="middle" >1</text>
<text x="380.40" y="965.30" font-size="12.3" font-weight="normal" fill="#1db45c" text-anchor="middle" >2</text>
<text x="445.00" y="958.10" font-size="12.3" font-weight="normal" fill="#1db45c" text-anchor="middle" >8</text>
<text x="411.60" y="983.90" font-size="12.3" font-weight="normal" fill="#1db45c" text-anchor="middle" >5</text>
<text x="412.10" y="1000.40" font-size="12.3" font-weight="normal" fill="#1db45c" text-anchor="middle" >6</text>
<text x="443.70" y="998.70" font-size="12.3" font-weight="normal" fill="#1db45c" text-anchor="middle" >9</text>
<text x="405.10" y="1024.30" font-size="12.3" font-weight="normal" fill="#1db45c" text-anchor="middle" >3</text>
<text x="435.20" y="1019.80" font-size="12.3" font-weight="normal" fill="#1db45c" text-anchor="middle" >7</text>
<text x="405.90" y="1042.00" font-size="12.3" font-weight="normal" fill="#1db45c" text-anchor="middle" >4</text>
<text x="458.50" y="1051.90" font-size="12.3" font-weight="normal" fill="#1db45c" text-anchor="middle" >10</text>
<text x="462.20" y="1070.80" font-size="12.3" font-weight="normal" fill="#1db45c" text-anchor="middle" >11</text>
<text x="511.30" y="942.80" font-size="12.3" font-weight="normal" fill="#1db45c" text-anchor="middle" >1</text>
<text x="512.10" y="960.90" font-size="12.3" font-weight="normal" fill="#1db45c" text-anchor="middle" >2</text>
<text x="574.10" y="962.50" font-size="12.3" font-weight="normal" fill="#1db45c" text-anchor="middle" >8</text>
<text x="536.80" y="983.10" font-size="12.3" font-weight="normal" fill="#1db45c" text-anchor="middle" >5</text>
<text x="538.40" y="1001.20" font-size="12.3" font-weight="normal" fill="#1db45c" text-anchor="middle" >6</text>
<text x="580.00" y="1001.20" font-size="12.3" font-weight="normal" fill="#1db45c" text-anchor="middle" >9</text>
<text x="535.10" y="1022.60" font-size="12.3" font-weight="normal" fill="#1db45c" text-anchor="middle" >3</text>
<text x="565.60" y="1021.50" font-size="12.3" font-weight="normal" fill="#1db45c" text-anchor="middle" >7</text>
<text x="532.30" y="1038.70" font-size="12.3" font-weight="normal" fill="#1db45c" text-anchor="middle" >4</text>
<text x="582.80" y="1056.00" font-size="12.3" font-weight="normal" fill="#1db45c" text-anchor="middle" >10</text>
<text x="584.00" y="1079.00" font-size="12.3" font-weight="normal" fill="#1db45c" text-anchor="middle" >11</text>
</g>
</svg>
</body></html>
